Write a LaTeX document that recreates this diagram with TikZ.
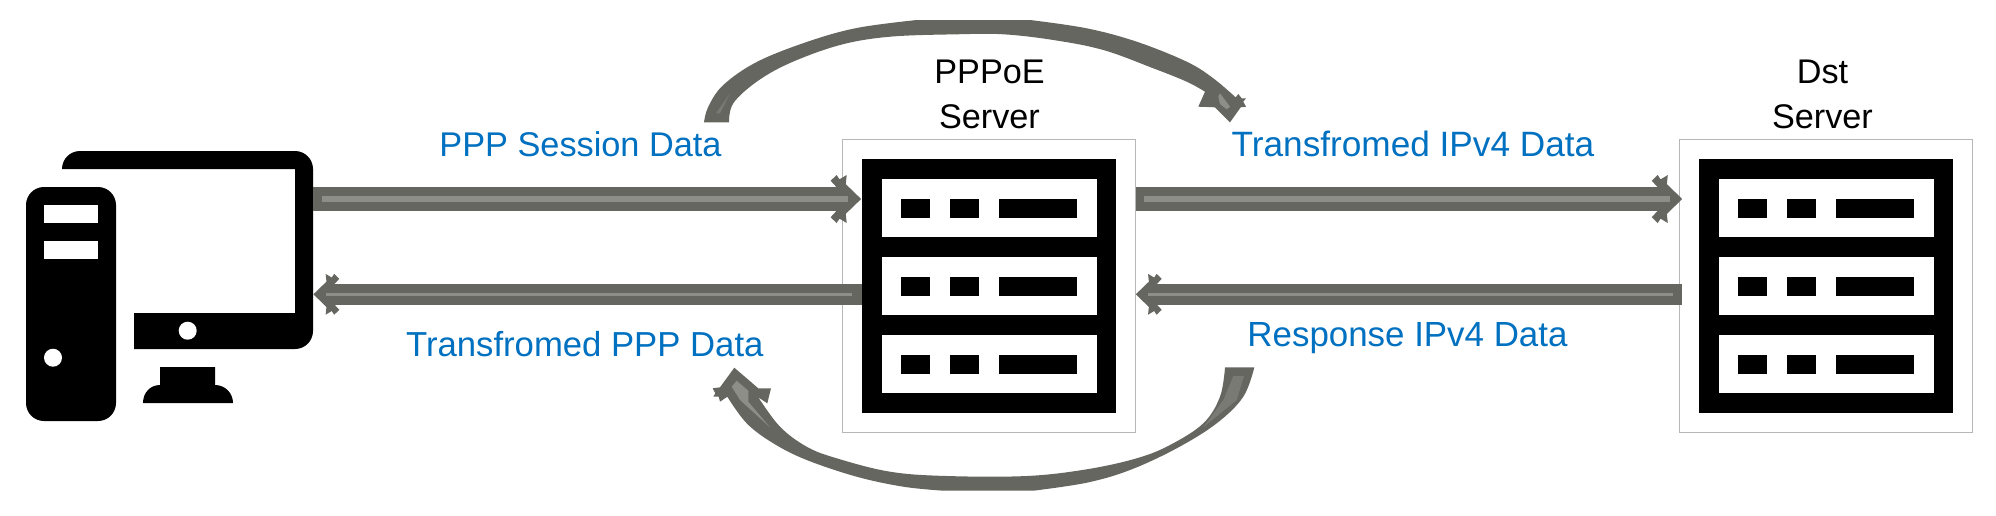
\documentclass[tikz,border=0pt]{standalone}
\usepackage{fontspec}
\setmainfont{Liberation Sans}
\usetikzlibrary{arrows.meta}
\definecolor{flowgrey}{RGB}{102,102,96}
\definecolor{flowlight}{RGB}{142,142,136}
\definecolor{flowmid}{RGB}{122,122,116}
\definecolor{framegrey}{RGB}{183,183,183}
\definecolor{labelblue}{RGB}{0,112,192}
\newcommand{\tipL}[2]{\pgfpathlineto{\pgfpoint{-#1\pgflinewidth}{#2\pgflinewidth}}}
\pgfdeclarearrow{
  name=StarTip,
  setup code={
    \pgfarrowssettipend{0pt}
    \pgfarrowssetlineend{-1\pgflinewidth}
    \pgfarrowssetbackend{-1.4\pgflinewidth}
    \pgfarrowssetvisualbackend{-1\pgflinewidth}
  },
  drawing code={
    \pgfsetfillcolor{flowgrey}
    \pgfpathmoveto{\pgfpointorigin}
    \tipL{.64}{.62}\tipL{.6}{1}\tipL{.9}{.82}\tipL{1.02}{1}\tipL{1.27}{.76}\tipL{1.03}{.5}
    \tipL{1.03}{-.5}\tipL{1.27}{-.76}\tipL{1.02}{-1}\tipL{.9}{-.82}\tipL{.6}{-1}\tipL{.64}{-.62}
    \pgfpathclose
    \pgfusepathqfill
  },
  parameters={\the\pgflinewidth}
}
\tikzset{
  x=.5pt,y=-.5pt,
  flowfat/.style={draw=flowgrey,line width=12pt,-{StarTip}},
  flowthin/.style={draw=flowgrey,line width=10.2pt,-{StarTip}},
  glowfat/.style={draw=flowlight,line width=3pt},
  glowthin/.style={draw=flowlight,line width=1.8pt},
  ribbon/.style={fill=flowgrey},
  caption/.style={font=\fontsize{#1}{22.5}\selectfont,inner sep=0pt,anchor=base},
  flowlabel/.style={caption=#1,text=labelblue},
  serverlabel/.style={caption=17.1,text=black,align=center},
  frameNode/.style={draw=framegrey,line width=.5pt,fill=white,minimum width=146.5pt,minimum height=146.5pt,inner sep=0pt},
  rackNode/.style={fill=black,minimum width=126.7pt,minimum height=126.7pt,inner sep=0pt},
  pics/rackfront/.style={code={
    \foreach \yy in {0,78,156}{
      \fill[white] (-107.2,{-107.2+\yy}) rectangle (107.9,{-48.6+\yy});
      \fill[black] (-87.9,{-87.5+\yy}) rectangle (-58.6,{-68.1+\yy});
      \fill[black] (-39.2,{-87.5+\yy}) rectangle (-9.6,{-68.1+\yy});
      \fill[black] (9.8,{-87.5+\yy}) rectangle (88.1,{-68.1+\yy});
    }
  }}
}
\begin{document}
\begin{tikzpicture}
\useasboundingbox (0,0) rectangle (1996,515);
\fill[white] (0,0) rectangle (1996,515);

% computer
\node[minimum width=143.5pt,minimum height=135pt,inner sep=0pt] (pc) at (169.5,286) {};
\fill[black,even odd rule] (62,169) [rounded corners=9pt] -- (62,151) -- (313,151) -- (313,349) [sharp corners] -- (134,349) -- (134,313) -- (295,313) -- (295,169) -- cycle;
\fill[white] (187.7,330.7) circle[radius=9];
\fill[black] (143,403) .. controls (143,393) and (150,385) .. (160,385) -- (160,367) -- (215,367) -- (215,385) .. controls (225,385) and (233,393) .. (233,403) -- cycle;
\fill[black,rounded corners=9pt] (26,187) rectangle (116,421);
\fill[white] (44,205) rectangle (98,223);
\fill[white] (44,241) rectangle (98,259);
\fill[white] (53,357.7) circle[radius=9];

% servers
\node[frameNode] (srvAf) at (988.8,285.8) {};
\node[rackNode] (srvA) at (989,286) {};
\pic at (989,286) {rackfront};
\node[frameNode] (srvBf) at (1825.8,285.8) {};
\node[rackNode] (srvB) at (1826,286) {};
\pic at (1826,286) {rackfront};

% rows of the straight arrows
\coordinate (up) at (0,199);
\coordinate (lo) at (0,294.3);

% straight arrows
\draw[flowfat] (pc.east |- up) -- ([xshift=-.4pt]srvA.west |- up);
\draw[glowfat] ([xshift=4.5pt]pc.east |- up) -- ([xshift=-7pt]srvA.west |- up);
\draw[flowthin] (srvA.west |- lo) -- (pc.east |- lo);
\draw[glowthin] ([xshift=-5pt]srvA.west |- lo) -- ([xshift=6.5pt]pc.east |- lo);
\draw[flowfat] (srvAf.east |- up) -- ([xshift=1.7pt]srvBf.west |- up);
\draw[glowfat] ([xshift=4pt]srvAf.east |- up) -- ([xshift=-4.5pt]srvBf.west |- up);
\draw[flowthin] ([xshift=1.7pt]srvBf.west |- lo) -- (srvAf.east |- lo);
\draw[glowthin] ([xshift=-3pt]srvBf.west |- lo) -- ([xshift=6pt]srvAf.east |- lo);

% upper curved arrow
\fill[ribbon] plot[smooth,tension=.6] coordinates {(704,122.3) (708.3,106.7) (723.3,85) (756.7,62) (806.7,42) (856.7,28) (916.7,20)}
  -- (1030,20) -- plot[smooth,tension=.6] coordinates {(1030,20) (1086.7,28.3) (1136.7,41.7) (1186.7,61.7) (1213.3,78.3) (1236.7,98.3)}
  -- (1235,98.3) -- (1238.3,94) -- (1241.7,98.3) -- (1246,98.3) -- (1243.3,101.7) -- (1246,106.7) -- (1240.7,107.3) -- (1230,122.3) -- (1215,107.3) -- (1198.3,106.7) -- (1205,91.7)
  -- plot[smooth,tension=.6] coordinates {(1205,91.7) (1186.7,81.7) (1153.3,68.3) (1103.3,50) (1053.3,40) (1003.3,34.3) (956.7,34.3) (890,36.7) (840,45) (790,63) (756.7,81.7) (733.3,103.3) (729,122.3)} -- cycle;
\fill[flowlight] (1218.3,96.7) -- (1220,93.3) -- (1230,106.7) -- (1226.7,109.3) -- (1220,104) -- cycle;
\fill[flowmid] (716,113.3) -- (730,93.3) -- (720,113.3) -- cycle;

% lower curved arrow
\fill[ribbon] plot[smooth,tension=.6] coordinates {(1254.3,367.3) (1243.3,396.7) (1216.7,423.3) (1176.7,448.3) (1130,470) (1086.7,482.7) (1033.3,490.7)}
  -- (943.3,490.7) -- plot[smooth,tension=.6] coordinates {(943.3,490.7) (903.3,486.7) (856.7,476.7) (806.7,460) (773.3,443.3) (746.7,423.3) (727.3,396.7)}
  -- (720,401.7) -- (718.7,396.7) -- (713.3,396.7) -- (715.3,393.3) -- (712.7,388.3) -- (720,387.3) -- (734.3,367.7) -- (758.3,388.3) -- (771,388.3) -- (767.3,403.3) -- (758.3,397.3)
  -- plot[smooth,tension=.6] coordinates {(758.3,397.3) (780,426.7) (806.7,446.7) (836.7,458.3) (890,471.7) (946.7,476) (1026.7,476) (1086.7,469.3) (1136.7,458.3) (1170,445) (1203.3,423.3) (1220,396.7) (1225,367.3)} -- cycle;
\fill[flowlight] (731.7,386.7) -- (736.7,380.7) -- (748.3,390.7) -- (748.3,401.7) -- (770,427.3) -- (740,400) -- cycle;
\fill[flowmid] (1233.3,376) -- (1244,376) -- (1236.7,400) -- (1203.3,427.3) -- (1223.3,400) -- cycle;

% labels
\node[serverlabel] (lblA) at (989.5,128.3) {PPPoE\\Server};
\node[serverlabel] (lblB) at (1822.5,128.3) {Dst\\Server};
\node[flowlabel=17.15] (lbl1) at (580.5,156.7) {PPP Session Data};
\node[flowlabel=17.6] (lbl2) at (1413,156.7) {Transfromed IPv4 Data};
\node[flowlabel=17.35] (lbl3) at (584.8,356) {Transfromed PPP Data};
\node[flowlabel=17.45] (lbl4) at (1407.5,346) {Response IPv4 Data};
\end{tikzpicture}
\end{document}
